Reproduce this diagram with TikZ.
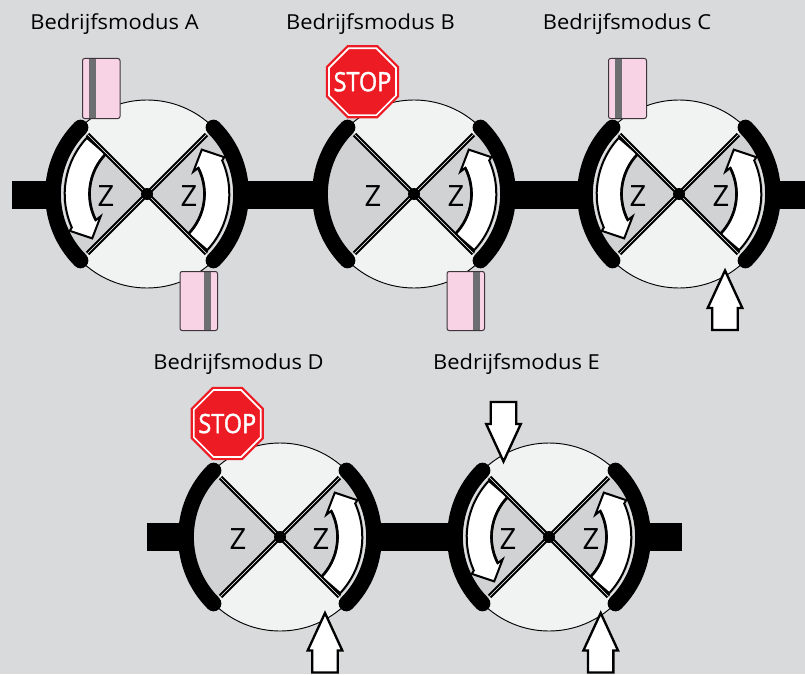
\documentclass[tikz,border=0pt]{standalone}
\usepackage{fontspec}
\setmainfont{Open Sans}
\newfontfamily\stopfont[FakeBold=1.6]{Open Sans}
\definecolor{bgc}{HTML}{D9DADC}
\definecolor{lightc}{HTML}{F1F3F2}
\definecolor{sect}{HTML}{D1D2D4}
\definecolor{gapc}{HTML}{E4E5E6}
\definecolor{pinkc}{HTML}{F8D3E6}
\definecolor{stripec}{HTML}{6D6E70}
\definecolor{stopred}{HTML}{ED1C24}
\tikzset{
 x=.75pt,y=.75pt,
 lbl/.style={font=\fontsize{15.5pt}{17pt}\selectfont,inner sep=0pt,text=black,anchor=base,xscale=1.06},
 zlbl/.style={font=\fontsize{22pt}{24pt}\selectfont,inner sep=0pt,text=black},
 sector/.style={fill=sect,draw=none},
 bararc/.style={draw=black,line width=11.8pt,line cap=round},
 spoke/.style={draw=black,line width=1.5pt,double=white,double distance=.5pt},
 bluntarrow/.style={draw=black,fill=white,line width=1.5pt,line join=miter,miter limit=8},
 card/.style={draw=black!75!pinkc,line width=.75pt,rounded corners=1.6pt},
}
\newcommand{\valvebody}[2]{%
 \begin{scope}[shift={(#1,#2)}]
  \fill[lightc] (0,0) circle (94);
  \draw[black,line width=.7pt] (0,0) circle (94);
  \fill[sector] (0,0) -- (-45:88) arc[start angle=-45,end angle=45,radius=88] -- cycle;
  \fill[sector] (0,0) -- (135:88) arc[start angle=135,end angle=225,radius=88] -- cycle;
  \draw[bararc] (135:94) arc[start angle=135,end angle=225,radius=94];
  \draw[bararc] (-45:94) arc[start angle=-45,end angle=45,radius=94];
 \end{scope}}
\newcommand{\valvespokes}[2]{%
 \begin{scope}[shift={(#1,#2)}]
  \draw[spoke] (45:84) -- (225:84);
  \draw[spoke] (135:84) -- (-45:84);
  \fill[black] (0,0) circle (6);
 \end{scope}}
\newcommand{\flowarrow}[3]{%
 \begin{scope}[shift={(#1,#2)},rotate=#3]
  \draw[gapc,line width=.8pt] (-44:85) arc[start angle=-44,end angle=22,radius=85];
  \draw[bluntarrow] (-44:57.5) arc[start angle=-44,end angle=27,radius=57.5]
    -- (25.7:51.4) -- (39:70.5) -- (25.5:85.6) -- (24:82.3)
    arc[start angle=24,end angle=-43,radius=82.3] -- cycle;
  \draw[black,line width=2pt] (-44:57.5) arc[start angle=-44,end angle=27,radius=57.5];
 \end{scope}}
\newcommand{\zmark}[3]{\node[zlbl] (#3) at (#1,#2) {Z};}
\newcommand{\paycard}[6]{%
 \fill[pinkc,rounded corners=1.6pt] (#1,#3) rectangle (#2,#4);
 \fill[stripec] (#5,#3) rectangle (#6,#4);
 \draw[card] (#1,#3) rectangle (#2,#4);}
\newcommand{\stopsign}[3]{%
 \begin{scope}[shift={(#1,#2)}]
  \fill[stopred] (22.5:39.6) -- (67.5:39.6) -- (112.5:39.6) -- (157.5:39.6) -- (202.5:39.6) -- (247.5:39.6) -- (292.5:39.6) -- (337.5:39.6) -- cycle;
  \draw[white,line width=1.25pt] (22.5:36.2) -- (67.5:36.2) -- (112.5:36.2) -- (157.5:36.2) -- (202.5:36.2) -- (247.5:36.2) -- (292.5:36.2) -- (337.5:36.2) -- cycle;
  \node[inner sep=0pt,text=white,font=\stopfont\fontsize{20pt}{22pt}\selectfont,xscale=.88] (#3) at (0,0) {STOP};
 \end{scope}}
\newcommand{\blockarrow}[3]{%
 \begin{scope}[shift={(#1,#2)},yscale=#3]
  \draw[bluntarrow,line width=1.75pt] (0,0) -- (17.3,-37.5) -- (12.7,-37.5) -- (12.7,-59.5) -- (-12.7,-59.5) -- (-12.7,-37.5) -- (-17.3,-37.5) -- cycle;
 \end{scope}}
\begin{document}
\begin{tikzpicture}
\useasboundingbox (0,0) rectangle (805,-674);
\fill[bgc] (0,0) rectangle (805,-674);
\fill[black] (12,-181) rectangle (805,-209);
\fill[black] (147,-523) rectangle (682,-551);
\valvebody{147}{-194}\valvebody{414}{-194}\valvebody{679}{-194}
\valvebody{280}{-537}\valvebody{549}{-537}
\flowarrow{147}{-194}{0}\flowarrow{147}{-194}{180}
\flowarrow{414}{-194}{0}
\flowarrow{679}{-194}{0}\flowarrow{679}{-194}{180}
\flowarrow{280}{-537}{0}
\flowarrow{549}{-537}{0}\flowarrow{549}{-537}{180}
\valvespokes{147}{-194}\valvespokes{414}{-194}\valvespokes{679}{-194}
\valvespokes{280}{-537}\valvespokes{549}{-537}
\zmark{106}{-196}{za1}\zmark{189}{-196}{za2}
\zmark{373}{-196}{zb1}\zmark{456}{-196}{zb2}
\zmark{638}{-196}{zc1}\zmark{721}{-196}{zc2}
\zmark{238}{-539}{zd1}\zmark{321}{-539}{zd2}
\zmark{508}{-539}{ze1}\zmark{591}{-539}{ze2}
\paycard{82.5}{120}{-58.5}{-118.5}{89}{96}
\paycard{180}{217.5}{-271.5}{-330.5}{204}{211}
\paycard{447}{484.5}{-271.5}{-330.5}{473}{480}
\paycard{608.5}{646.5}{-58.5}{-118.5}{615}{622}
\stopsign{362.5}{-81.7}{stopb}
\stopsign{227.3}{-423.5}{stopd}
\blockarrow{725}{-270.5}{1}
\blockarrow{325}{-613}{1}
\blockarrow{600.7}{-613}{1}
\blockarrow{503.5}{-461.5}{-1}
\node[lbl] (la) at (114.5,-30) {Bedrijfsmodus A};
\node[lbl] (lb) at (370.5,-30) {Bedrijfsmodus B};
\node[lbl] (lc) at (627,-30) {Bedrijfsmodus C};
\node[lbl] (ld) at (238.5,-369) {Bedrijfsmodus D};
\node[lbl] (le) at (516.5,-369) {Bedrijfsmodus E};
\end{tikzpicture}
\end{document}
